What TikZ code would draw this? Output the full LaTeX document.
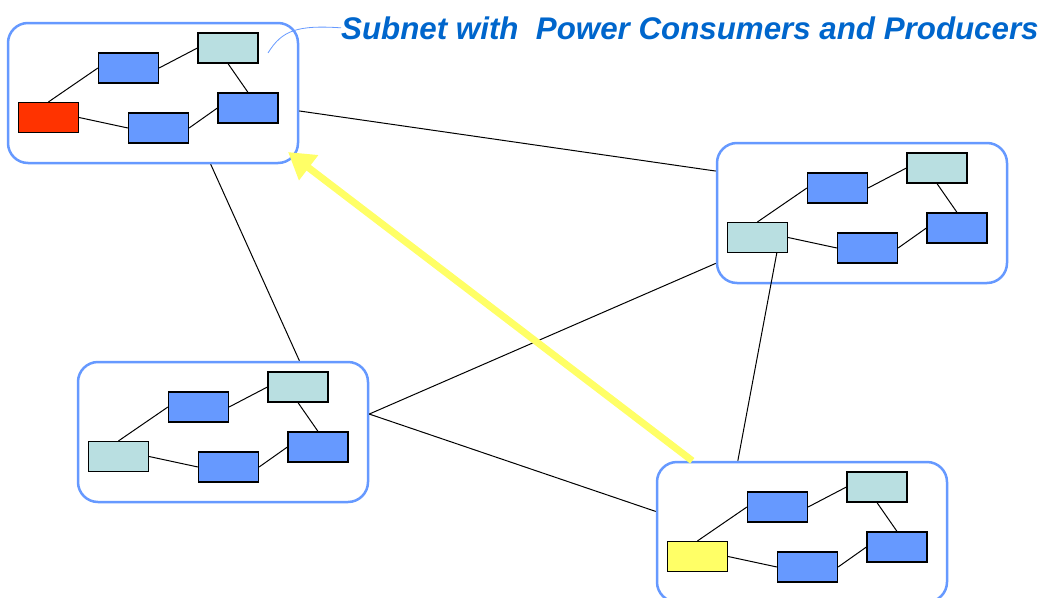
\documentclass[tikz,border=0pt]{standalone}
\usepackage{fontspec}
\usepackage{tikz}
\usetikzlibrary{arrows.meta,calc}
\usepackage{xcolor}
\definecolor{NetBlue}{RGB}{102,153,255}
\definecolor{DevBlue}{RGB}{102,153,255}
\definecolor{GenCyan}{RGB}{185,223,225}
\definecolor{LoadRed}{RGB}{255,51,0}
\definecolor{SrcYellow}{RGB}{255,255,102}
\definecolor{TitleBlue}{RGB}{0,102,204}
\newfontfamily\titlefont{Liberation Sans}
\tikzset{
  netbox/.style={rectangle,rounded corners=20pt,draw=NetBlue,line width=2.5pt,
                 minimum width=290pt,minimum height=140pt,inner sep=0pt},
  dev/.style={rectangle,draw=black,line width=1.2pt,fill=DevBlue,
              minimum width=60pt,minimum height=30pt,inner sep=0pt},
  gen/.style={dev,fill=GenCyan},
  wire/.style={black,line width=1pt},
  flow/.style={-{Triangle[length=26pt,width=30pt]},SrcYellow,line width=7pt},
  headline/.style={font=\fontsize{31.3}{35}\selectfont\titlefont\bfseries\itshape,
                   text=TitleBlue,inner sep=0pt},
}
% one subnet: name, x, y, colour of the leftmost unit
\newcommand{\subnet}[4]{%
  \node[netbox] (#1) at (#2,#3) {};
  \begin{scope}[shift={(#2,#3)}]
    \node[dev,fill=#4] (#1a) at (-104.5,24.5) {};
    \node[dev] (#1b) at (-24.5,-25) {};
    \node[gen] (#1c) at (75,-45) {};
    \node[dev] (#1d) at (5.5,35) {};
    \node[dev] (#1e) at (95,15) {};
  \end{scope}
  \draw[wire] (#1a.north) -- (#1b.west) (#1b.east) -- (#1c.west)
    (#1c.south) -- (#1e.north) (#1a.east) -- (#1d.west) (#1d.east) -- (#1e.west);
}

\begin{document}
\begin{tikzpicture}[x=1pt,y=-1pt]
  \useasboundingbox (0,0) rectangle (1049,597);

  \subnet{A}{153}{93}{LoadRed}
  \subnet{R}{862}{213}{GenCyan}
  \subnet{L}{223}{432}{GenCyan}
  \subnet{B}{802}{532}{SrcYellow}

  % links between the subnets
  \draw[wire] (A.-7.9) -- (R.164.6);
  \draw[wire] (A.-51.8) -- (L.43);
  \draw[wire] (L.7.9) -- (R.-161);
  \draw[wire] (L.7.9) -- (B.172);
  \draw[wire] (Ra.-39) -- (B.132.4);

  % title with its callout
  \node[headline,anchor=base west] (title) at (341,39)
    {Subnet with\ \ Power Consumers and Producers};
  \coordinate (callout) at (268,53);
  \draw[NetBlue,line width=0.8pt] (callout) .. controls (282,30) and (298,25) .. (title.west);

  % power flow
  \coordinate (tip) at (288,152);
  \draw[flow] (B.147.3) -- (tip);
\end{tikzpicture}
\end{document}
